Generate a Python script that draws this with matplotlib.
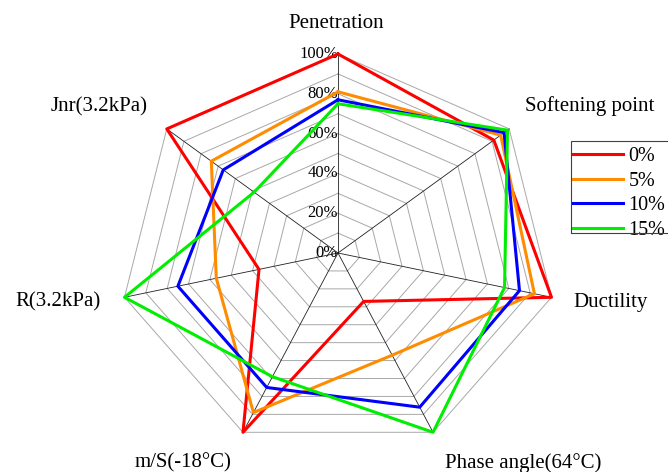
import numpy as np
import matplotlib
matplotlib.use("Agg")
import matplotlib.pyplot as plt
from matplotlib.patches import Rectangle

plt.rcParams["font.family"] = ["Liberation Serif", "DejaVu Serif"]

categories = ["Penetration", "Softening point", "Ductility", "Phase angle(64°C)",
              "m/S(-18°C)", "R(3.2kPa)", "Jnr(3.2kPa)"]
series_names = ["0%", "5%", "10%", "15%"]
values_0 = [1.00, 0.91, 1.00, 0.27, 1.00, 0.37, 1.00]
values_5 = [0.81, 0.95, 0.92, 0.57, 0.89, 0.57, 0.74]
values_10 = [0.77, 0.97, 0.85, 0.86, 0.75, 0.75, 0.67]
values_15 = [0.75, 0.99, 0.78, 1.00, 0.69, 1.00, 0.49]
tick_values = [0.0, 0.2, 0.4, 0.6, 0.8, 1.0]
tick_labels = ["0%", "20%", "40%", "60%", "80%", "100%"]
ring_values = np.arange(1, 11) / 10

colors = ["#ff0000", "#ff8c00", "#0000ff", "#00ee00"]
# label centres in pixels (x from left, y from top) of a 668x472 canvas
label_px = [(336, 23), (590, 106), (611, 303), (523, 463),
            (183, 463), (58, 302), (99, 107)]

W, H = 668, 472
fig = plt.figure(figsize=(W / 100, H / 100), dpi=100)
ax = fig.add_axes([119 / W, 20 / H, 438 / W, 398 / H], projection="polar")
ax.set_theta_zero_location("N")
ax.set_theta_direction(-1)
ax.set_aspect("auto")   # excel chart was stretched sideways
ax.set_ylim(0, 1)
ax.grid(False)
ax.spines["polar"].set_visible(False)
ax.set_xticks([])
ax.set_yticks([])
ax.patch.set_alpha(0)

n = len(categories)
theta = np.arange(n) * 2 * np.pi / n
theta_closed = np.append(theta, theta[0])

for r in ring_values:
    ax.plot(theta_closed, [r] * (n + 1), color="#a8a8a8", lw=0.7, clip_on=False, zorder=1)
for t in theta:
    ax.plot([t, t], [0, 1], color="#202020", lw=0.6, clip_on=False, zorder=1)

for tv, tl in zip(tick_values, tick_labels):
    ax.text(0, tv, tl, ha="right", va="center", fontsize=12, zorder=2)

all_values = [values_0, values_5, values_10, values_15]
for vals, name, c in zip(all_values, series_names, colors):
    ax.plot(theta_closed, vals + vals[:1], color=c, lw=2.2, label=name,
            clip_on=False, zorder=3)

for cat, (px, py) in zip(categories, label_px):
    fig.text(px / W, 1 - py / H, cat, ha="center", va="center", fontsize=15)

# legend entries without frame, frame drawn separately (it runs off the right edge)
leg = ax.legend(loc="upper left", bbox_to_anchor=(573 / W, 1 - 147 / H),
                bbox_transform=fig.transFigure, fontsize=14.5, frameon=False,
                borderaxespad=0, borderpad=0, handlelength=2.5,
                handletextpad=0.25, labelspacing=0.27)
fig.patches.append(Rectangle((571 / W, 1 - 233 / H), 120 / W, 92 / H,
                             transform=fig.transFigure, fill=False,
                             edgecolor="#404040", lw=0.8))

fig.savefig("out.png", dpi=100)
